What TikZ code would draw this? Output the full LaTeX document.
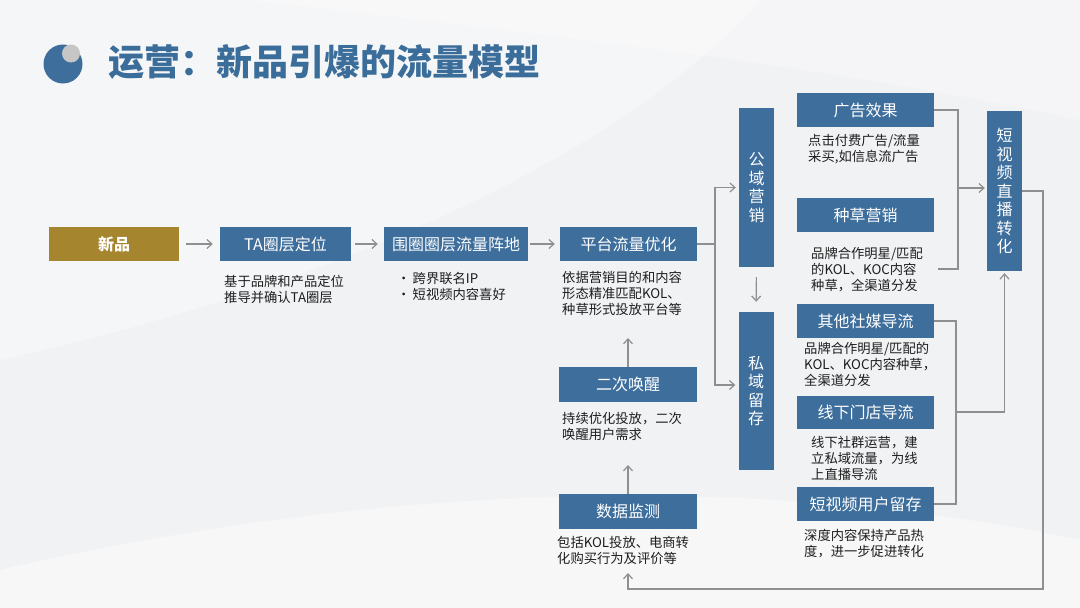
\documentclass[tikz,border=0pt]{standalone}
\usepackage{fontspec}
\setmainfont{Noto Sans CJK SC}
\usetikzlibrary{arrows.meta}
\definecolor{boxblue}{HTML}{3D6E9C}
\definecolor{gold}{HTML}{A6852F}
\definecolor{titleblue}{HTML}{3A6D99}
\definecolor{conn}{HTML}{8F8F8F}
\definecolor{bg}{HTML}{F1F2F4}
\definecolor{desc}{HTML}{1E1E1E}
\tikzset{
  box/.style={fill=boxblue, text=white, inner sep=0pt, minimum width=137pt, minimum height=34pt, font=\fontsize{16}{18}\selectfont},
  vbox/.style={box, minimum width=35pt, align=center, font=\fontsize{16}{18.5}\selectfont},
  descr/.style={anchor=north west, inner sep=0pt, align=left, text=desc, font=\fontsize{13.3}{16}\selectfont},
  line/.style={draw=conn, line width=1.2pt},
  arr/.style={line, -{Straight Barb[length=5pt,width=9pt]}},
}
\begin{document}
\begin{tikzpicture}[x=1pt,y=-1pt]
\useasboundingbox (0,0) rectangle (1080,608);
% background
\fill[bg] (0,0) rectangle (1080,608);
\fill[white, opacity=0.35] (0,0) -- (760,0) .. controls (620,160) and (320,290) .. (0,360) -- cycle;
\fill[white, opacity=0.3] (250,0) -- (1080,0) -- (1080,120) .. controls (800,60) and (500,30) .. (250,0) -- cycle;
\fill[white, opacity=0.45] (0,608) -- (0,570) .. controls (300,500) and (700,460) .. (1080,540) -- (1080,608) -- cycle;
% title
\fill[boxblue] (63,64) circle[radius=19.5];
\fill[gray!45] (71,53.5) circle[radius=9];
\node[anchor=west, inner sep=0pt, text=titleblue, font=\fontsize{36}{40}\selectfont\bfseries] (title) at (108,62) {运营：新品引爆的流量模型};
% main row
\node[box, fill=gold, minimum width=130pt, font=\fontsize{16}{18}\selectfont\bfseries] (xp) at (114,244) {新品};
\node[box, minimum width=131pt] (ta) at (285.5,244) {TA圈层定位};
\node[box, minimum width=144pt] (wq) at (456,244) {围圈圈层流量阵地};
\node[box] (pt) at (628.5,244) {平台流量优化};
\node[descr] (tad) at (224,275) {基于品牌和产品定位\\推导并确认TA圈层};
\node[descr] (wqd) at (397,272) {•\,跨界联名IP\\•\,短视频内容喜好};
\node[descr] (ptd) at (562,271) {依据营销目的和内容\\形态精准匹配KOL、\\种草形式投放平台等};
% left-lower column
\node[box, minimum width=138pt, minimum height=35pt] (ec) at (628,384.5) {二次唤醒};
\node[descr] (ecd) at (562,412) {持续优化投放，二次\\唤醒用户需求};
\node[box, minimum width=138pt, minimum height=35pt] (sj) at (628,511.5) {数据监测};
\node[descr] (sjd) at (557,536) {包括KOL投放、电商转\\化购买行为及评价等};
% vertical boxes
\node[vbox, minimum height=159pt] (gy) at (756.5,187.5) {公\\域\\营\\销};
\node[vbox, minimum height=158pt] (sy) at (756,391) {私\\域\\留\\存};
\node[vbox, minimum height=160pt] (zb) at (1004.5,191) {短\\视\\频\\直\\播\\转\\化};
% right column
\node[box] (gg) at (865.5,110) {广告效果};
\node[descr] (ggd) at (808,134) {点击付费广告/流量\\采买,如信息流广告};
\node[box] (zc) at (865.5,215) {种草营销};
\node[descr] (zcd) at (811,247) {品牌合作明星/匹配\\的KOL、KOC内容\\种草，全渠道分发};
\node[box] (qt) at (865.5,321) {其他社媒导流};
\node[descr] (qtd) at (804,342) {品牌合作明星/匹配的\\KOL、KOC内容种草，\\全渠道分发};
\node[box, minimum height=33pt] (xx) at (865.5,412.5) {线下门店导流};
\node[descr] (xxd) at (811,436) {线下社群运营，建\\立私域流量，为线\\上直播导流};
\node[box] (dsp) at (865.5,504) {短视频用户留存};
\node[descr] (dspd) at (804,529) {深度内容保持产品热\\度，进一步促进转化};
% coordinates
\coordinate (s1) at (715,244);
\coordinate (b1) at (958,269);
\coordinate (b1e) at (938,269);
\coordinate (m1) at (958,188);
\coordinate (b2) at (956,504);
\coordinate (m2) at (956,412);
\coordinate (r1) at (1043,589);
\coordinate (t1) at (628,573);
\coordinate (t2) at (628,465);
\coordinate (t3) at (628,338);
% connectors
\draw[arr, shorten <=7pt, shorten >=7pt] (xp) -- (ta);
\draw[arr, shorten <=4pt, shorten >=6pt] (ta) -- (wq);
\draw[arr, shorten <=2pt, shorten >=5pt] (wq) -- (pt);
\draw[line] (pt.east) -- (s1);
\draw[arr, shorten >=3pt] (s1) |- (gy.west);
\draw[arr, shorten >=3pt] (s1) |- ([yshift=6pt]sy.west);
\draw[arr, shorten <=10pt, shorten >=10pt] (gy.south) -- (sy.north);
\draw[line] (gg.east) -| (b1) -- (b1e);
\draw[arr, shorten >=2pt] (m1) -- (zb.west |- m1);
\draw[line] (qt.east) -| (b2) -- (dsp.east);
\draw[arr, shorten >=2pt] (m2) -| (zb.south);
\draw[arr] (zb.east) -| (r1) -| (t1);
\draw[arr] (sj.north) -- (t2);
\draw[arr] (ec.north) -- (t3);
\end{tikzpicture}
\end{document}
